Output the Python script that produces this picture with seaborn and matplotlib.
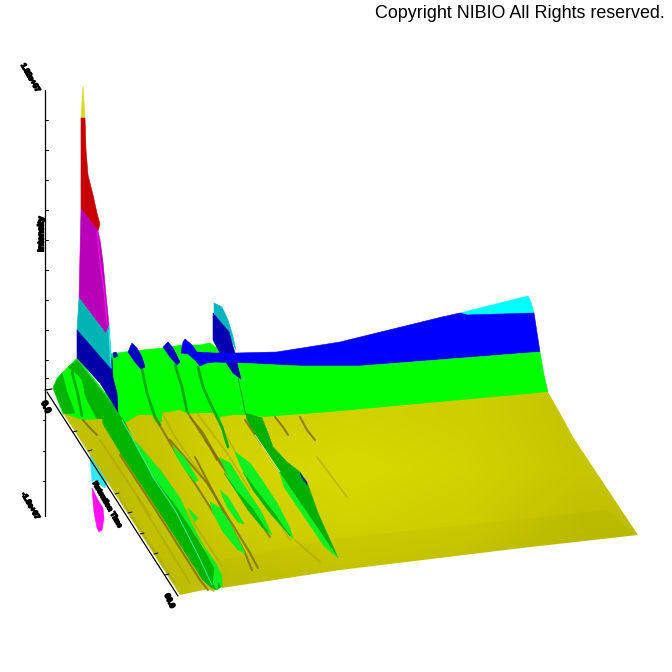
import numpy as np
import pandas as pd
import seaborn as sns
import matplotlib.pyplot as plt
import matplotlib.patheffects as pe
from matplotlib.colors import LinearSegmentedColormap
from matplotlib.patches import Polygon

sns.set_theme(style="white")
plt.rcParams['font.family'] = ['Liberation Sans', 'DejaVu Sans']

# outlines, in picture pixels
tip_x = [83, 81, 85]
tip_y = [86, 118, 118]
red_x = [81, 85, 86, 88, 93, 97, 100, 98, 81]
red_y = [118, 118, 150, 175, 195, 213, 224, 231, 209]
magenta_x = [81, 98, 100, 103, 106, 109, 106, 79]
magenta_y = [209, 231, 240, 262, 295, 325, 334, 298]
teal_x = [79, 106, 109, 112, 110, 77]
teal_y = [298, 334, 325, 368, 368, 330]
blue_x = [77, 110, 112, 113, 117, 118, 100, 77]
blue_y = [330, 368, 358, 378, 393, 412, 383, 358]
cyan_edge_x = [109, 110, 111]
cyan_edge_y = [330, 350, 368]
pink_edge_x = [97, 100, 104, 107]
pink_edge_y = [231, 260, 290, 325]

back_blue_x = [237, 277, 340, 442, 460, 467, 534, 540, 360, 300, 237]
back_blue_y = [353, 352, 342, 317, 313, 315, 313, 352, 366, 366, 363]
back_cyan_x = [460, 528, 531, 534, 467]
back_cyan_y = [313, 296, 302, 313, 315]
back_green_x = [110, 125, 143, 163, 182, 200, 210, 237, 300, 360, 540, 544, 548, 340, 120, 105]
back_green_y = [354, 352, 350, 348, 345, 345, 343, 363, 366, 366, 352, 375, 392, 425, 430, 390]
left_green_x = [53, 57, 63, 68, 77, 95, 118, 120, 100, 82, 63]
left_green_y = [388, 378, 372, 367, 358, 380, 410, 422, 421, 422, 414]
left_dark_x = [53, 57, 62, 67, 75, 64]
left_dark_y = [388, 380, 373, 392, 413, 414]
left_dark2_x = [68, 77, 118, 123, 97, 87, 82, 78]
left_dark2_y = [367, 360, 412, 424, 419, 400, 380, 375]

yellow_x = [63, 82, 100, 127, 138, 152, 155, 162, 162, 180, 188, 197, 213, 220, 220, 233, 250, 263, 303, 340,
            548, 560, 573, 638, 522, 340, 222, 218, 214, 208, 180]
yellow_y = [413, 420, 419, 422, 415, 415, 422, 422, 413, 410, 414, 413, 413, 425, 417, 415, 415, 417, 414, 411,
            392, 413, 437, 535, 548, 570, 588, 582, 592, 589, 595]
shade_xs = [60, 200, 340, 480, 640]
shade_ys = [390, 470, 540, 600]
shade_vals = [[0.40, 0.75, 0.85, 0.75, 0.45],
              [0.30, 0.85, 1.00, 0.85, 0.50],
              [0.25, 0.70, 0.85, 0.70, 0.30],
              [0.15, 0.40, 0.50, 0.40, 0.15]]

strip_x = [100, 117, 125, 133, 153, 177, 202, 220, 222, 217, 212, 203, 158, 120, 103]
strip_y = [390, 412, 422, 440, 477, 508, 547, 573, 586, 590, 588, 580, 510, 452, 424]
strip_light_x = [133, 137, 160, 180, 190, 203, 217, 222, 222, 218, 217, 213, 211, 213, 204, 176, 153]
strip_light_y = [440, 443, 470, 498, 520, 545, 565, 577, 587, 582, 590, 583, 587, 570, 547, 508, 477]
strip_dark_x = [140, 153, 177, 202, 214, 212, 203, 158, 120]
strip_dark_y = [456, 477, 508, 547, 568, 588, 580, 510, 452]
pale_line_x = [122, 135, 153, 175, 197, 212]
pale_line_y = [420, 443, 477, 510, 553, 585]

blobs = {
    'e1': ([173, 185, 198, 195, 185, 177], [447, 458, 480, 482, 470, 457]),
    'e2': ([188, 198, 195, 190], [508, 518, 522, 513]),
    'e3': ([210, 220, 230, 245, 238, 223, 213], [502, 508, 523, 553, 550, 532, 513]),
    'e4': ([220, 228, 240, 244, 238, 227], [490, 497, 517, 524, 522, 507]),
    'e5': ([220, 230, 247, 262, 272, 263, 248, 232], [458, 463, 490, 513, 535, 528, 510, 485]),
    'e6': ([235, 250, 262, 277, 290, 293, 287, 270, 253, 240], [452, 463, 480, 503, 528, 539, 532, 513, 490, 465]),
}
inner_e5_x = [224, 236, 252, 268, 262, 248, 232]
inner_e5_y = [473, 490, 508, 532, 527, 510, 485]
inner_e6_x = [243, 256, 274, 290, 287, 270, 253]
inner_e6_y = [472, 490, 513, 536, 532, 513, 490]

big_ridge_x = [238, 242, 245, 262, 268, 273, 287, 300, 308, 318, 338, 327, 288, 257, 247]
big_ridge_y = [378, 395, 413, 418, 433, 447, 462, 472, 485, 513, 558, 542, 485, 437, 420]
big_edge_x = [280, 288, 327, 338, 324, 284]
big_edge_y = [473, 485, 542, 558, 546, 487]
pale_ridge_x = [255, 280]
pale_ridge_y = [435, 472]
ridge_blue_x = [300, 307, 307, 302]
ridge_blue_y = [473, 482, 485, 478]

peak_teal_x = [214, 222, 228, 232, 236, 229, 214]
peak_teal_y = [303, 307, 320, 333, 350, 333, 313]
peak_blue_x = [213, 229, 235, 237, 241, 233, 220, 213]
peak_blue_y = [313, 332, 353, 363, 379, 373, 353, 340]
blue_arm_x = [181, 183, 185, 192, 197, 213, 237, 237, 215, 207, 200, 195, 188]
blue_arm_y = [353, 342, 339, 345, 352, 353, 353, 363, 362, 363, 366, 360, 354]
blue_blob1_x = [128, 132, 137, 142, 145, 141, 135]
blue_blob1_y = [352, 343, 348, 357, 367, 369, 362]
blue_blob2_x = [163, 168, 173, 180, 177, 170]
blue_blob2_y = [347, 342, 348, 362, 365, 357]
blue_blob3_x = [113, 116, 118, 114]
blue_blob3_y = [353, 352, 356, 358]

under_magenta_x = [92, 98, 103, 104, 102, 99, 97, 94]
under_magenta_y = [488, 500, 508, 518, 530, 532, 528, 512]
under_cyan_x = [90, 94, 107, 105, 94, 92]
under_cyan_y = [455, 455, 480, 488, 480, 482]

# streaks across the surface
green_streaks = [
    ([142, 147, 155, 160], [369, 393, 417, 425]),
    ([175, 182, 187], [365, 387, 411]),
    ([198, 203, 212, 222, 228], [367, 387, 407, 427, 447]),
    ([85, 92, 100], [392, 406, 417]),
    ([72, 78, 82], [372, 395, 416]),
]
brown_streaks = [
    ([120, 157, 200, 208], [455, 512, 580, 590]),
    ([155, 180, 215], [417, 460, 515]),
    ([170, 207, 250, 258], [440, 483, 553, 568]),
    ([188, 210, 217], [413, 447, 460]),
    ([190, 203, 220, 270], [417, 433, 463, 537]),
    ([195, 245, 252], [457, 553, 570]),
    ([245, 262], [420, 445]),
    ([275, 283, 288], [417, 427, 435]),
    ([300, 307, 315], [417, 430, 440]),
    ([205, 247, 262], [440, 500, 525]),
    ([83, 90, 97], [420, 428, 435]),
]
faint_streaks = [
    ([120, 175], [498, 583]),
    ([137, 190], [497, 583]),
    ([100, 150], [440, 515]),
    ([162, 175, 205], [413, 437, 480]),
    ([197, 227, 250], [413, 453, 490]),
    ([220, 240, 290], [425, 460, 540]),
    ([317, 347], [457, 497]),
    ([160, 195, 222], [470, 525, 566]),
    ([295, 320], [540, 562]),
]
band_x = [222, 340, 607, 638, 522, 340, 222]
band_y = [560, 538, 510, 535, 548, 570, 588]

vert_ticks = [120, 150, 180, 210, 240, 270, 300, 330, 360, 378]
low_ticks = [420, 451, 481]
front_ticks_x = [73, 88, 115, 128, 140, 154, 165]
front_ticks_y = [432, 451, 494, 513, 534, 554, 575]

labels = [
    (30, 78, '1.02e+07', -60, 5.4),
    (46, 407, '0.0', -65, 6.5),
    (30, 506, '-1.0e+07', -60, 5.4),
    (169, 601, '60.0', -65, 5.6),
    (107, 505, 'Retention Time', -60, 5.2),
    (41, 234, 'Intensity', 90, 6.2),
]
copyright_text = 'Copyright NIBIO All Rights reserved.'


def streak_frame(streaks):
    rows = []
    for i, (xs, ys) in enumerate(streaks):
        for k, (x, y) in enumerate(zip(xs, ys)):
            rows.append({'streak': i, 'order': k, 'x': x, 'y': y})
    return pd.DataFrame(rows)


def draw_streaks(ax, streaks, color, width, alpha=1.0):
    sns.lineplot(data=streak_frame(streaks), x='x', y='y', units='streak', estimator=None,
                 sort=False, color=color, lw=width, alpha=alpha, ax=ax, legend=False)


fig = plt.figure(figsize=(6.72, 6.72), dpi=100)
ax = fig.add_axes([0, 0, 1, 1])

for xs, ys, color in [
    (under_cyan_x, under_cyan_y, '#30e8f8'),
    (under_magenta_x, under_magenta_y, '#ff10f0'),
    (back_cyan_x, back_cyan_y, '#00ffff'),
    (back_blue_x, back_blue_y, '#0000ff'),
    (back_green_x, back_green_y, '#00ff00'),
    (left_green_x, left_green_y, '#00ff00'),
    (left_dark_x, left_dark_y, '#00b400'),
    (left_dark2_x, left_dark2_y, '#00b400'),
]:
    ax.fill(xs, ys, color=color, lw=0.4, zorder=1)

# yellow floor, brighter in the middle
cmap = LinearSegmentedColormap.from_list('floor', ['#b4b400', '#d8d800'])
floor = ax.imshow(shade_vals, cmap=cmap, vmin=0, vmax=1, interpolation='bilinear', aspect='auto',
                  extent=[shade_xs[0], shade_xs[-1], shade_ys[-1], shade_ys[0]], zorder=1.5)
floor.set_clip_path(Polygon(np.column_stack([yellow_x, yellow_y]), transform=ax.transData))
ax.fill(band_x, band_y, color='black', alpha=0.02, lw=0, zorder=1.6)

draw_streaks(ax, faint_streaks, '#a8a000', 1.3, 0.5)
draw_streaks(ax, green_streaks, '#00b000', 2.0)
draw_streaks(ax, brown_streaks, '#807400', 1.5, 0.85)
for line in ax.get_lines():
    line.set_zorder(2)
    line.set_solid_capstyle('round')

for xs, ys in blobs.values():
    ax.fill(xs, ys, color='#10f020', lw=0.4, zorder=3)
for xs, ys, color in [
    (inner_e5_x, inner_e5_y, '#00b400'),
    (inner_e6_x, inner_e6_y, '#00b400'),
    (strip_x, strip_y, '#00b400'),
    (strip_light_x, strip_light_y, '#10f020'),
    (strip_dark_x, strip_dark_y, '#00b400'),
    (big_ridge_x, big_ridge_y, '#00b000'),
    (big_edge_x, big_edge_y, '#10f020'),
    (ridge_blue_x, ridge_blue_y, '#003090'),
    (tip_x, tip_y, '#d8d820'),
    (red_x, red_y, '#c80000'),
    (magenta_x, magenta_y, '#b800b8'),
    (teal_x, teal_y, '#00b4b4'),
    (blue_x, blue_y, '#0000a8'),
    (peak_teal_x, peak_teal_y, '#00b4c0'),
    (peak_blue_x, peak_blue_y, '#0000b0'),
    (blue_arm_x, blue_arm_y, '#0000f0'),
    (blue_blob1_x, blue_blob1_y, '#0000c0'),
    (blue_blob2_x, blue_blob2_y, '#0000c0'),
    (blue_blob3_x, blue_blob3_y, '#0000c0'),
]:
    ax.fill(xs, ys, color=color, lw=0.4, zorder=3)
ax.plot(pale_line_x, pale_line_y, color='#40f080', lw=0.7, zorder=3.5)
ax.plot(pale_ridge_x, pale_ridge_y, color='#e8e880', lw=0.7, zorder=3.5)
ax.plot(pink_edge_x, pink_edge_y, color='#f010e8', lw=0.9, zorder=3.5)
ax.plot(cyan_edge_x, cyan_edge_y, color='#20f0f8', lw=0.9, zorder=3.5)

# axes drawn by hand, the picture has no rectangular frame
ax.plot([45, 45], [90, 516], color='black', lw=0.9, zorder=4)
ax.plot([45, 52], [390, 389], color='black', lw=0.9, zorder=4)
ax.plot([47, 178], [392, 596], color='black', lw=0.9, zorder=4)
for t in vert_ticks:
    ax.plot([45, 48], [t, t], color='black', lw=0.7, zorder=4)
for t in low_ticks:
    ax.plot([43, 45], [t, t], color='black', lw=0.7, zorder=4)
for x, y in zip(front_ticks_x, front_ticks_y):
    ax.plot([x, x + 4], [y, y - 1], color='black', lw=0.7, zorder=4)
for x, y, s, rot, size in labels:
    ax.text(x, y, s, fontsize=size, fontweight='bold', rotation=rot, ha='center', va='center', color='black',
            zorder=5, path_effects=[pe.withStroke(linewidth=1.1, foreground='black')])
ax.text(665, 14, copyright_text, fontsize=12.85, ha='right', va='center', color='black')

ax.set_xlim(0, 672)
ax.set_ylim(672, 0)
ax.set_xlabel('')
ax.set_ylabel('')
ax.axis('off')
fig.savefig('out.png', dpi=100)
